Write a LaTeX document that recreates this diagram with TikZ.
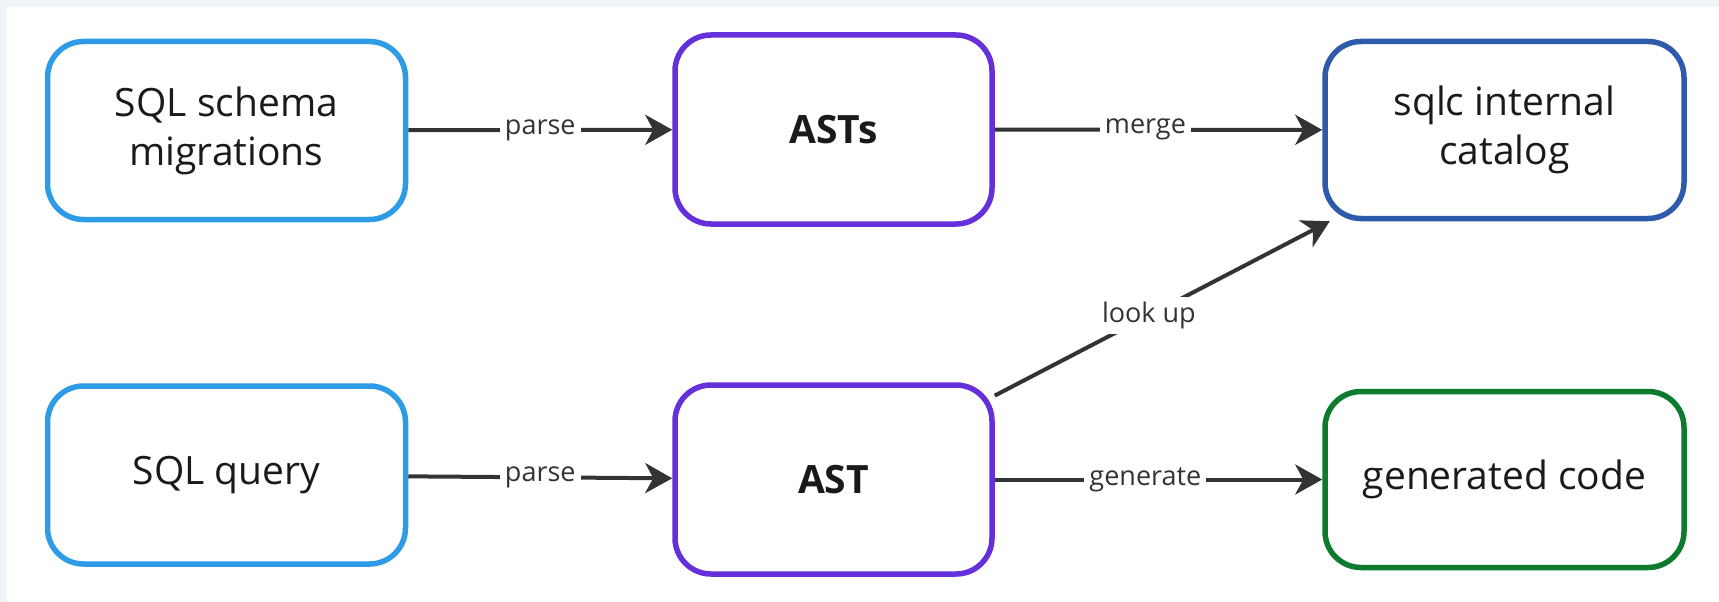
\documentclass[tikz,border=0pt]{standalone}
\usepackage{fontspec}
\setmainfont{Open Sans}
\usetikzlibrary{arrows.meta}
\definecolor{bgc}{HTML}{F0F3F6}
\definecolor{cblue}{HTML}{2D9BE6}
\definecolor{cpurple}{HTML}{6530D9}
\definecolor{cnavy}{HTML}{2E5AAC}
\definecolor{cgreen}{HTML}{0E7A2E}
\definecolor{ink}{HTML}{333333}
\definecolor{txt}{HTML}{1A1A1A}
\begin{document}
\begin{tikzpicture}[x=1pt,y=-1pt,
  box/.style={draw, line width=5.5pt, rounded corners=36pt, fill=white, align=center,
    text=txt, font=\fontsize{39}{49}\selectfont, inner sep=0pt},
  wide/.style={minimum width=358pt, minimum height=178pt},
  mid/.style={minimum width=317pt, minimum height=189pt},
  conn/.style={draw=ink, line width=4pt, -{Stealth[length=27pt,width=30pt,inset=8pt]}},
  lbl/.style={fill=white, text=ink, font=\fontsize{27}{30}\selectfont, inner sep=5pt}
]
\useasboundingbox (0,0) rectangle (1719,602);
\fill[bgc] (0,0) rectangle (1719,602);
\fill[white] (7,7) rectangle (1719,602);

\node[box, wide, draw=cblue] (schema) at (226.5,130.5) {SQL schema\\migrations};
\node[box, mid, draw=cpurple] (asts) at (833.5,129.5) {\bfseries ASTs};
\node[box, wide, draw=cnavy, minimum width=359pt, minimum height=177pt] (catalog) at (1504.5,130) {sqlc internal\\catalog};
\node[box, wide, draw=cblue] (query) at (226.5,475) {SQL query};
\node[box, mid, draw=cpurple] (ast) at (833.5,479.5) {\bfseries AST};
\node[box, wide, draw=cgreen, minimum width=359pt, minimum height=176pt] (gen) at (1504.5,479.5) {generated code};

\draw[conn] (schema) -- node[lbl, pos=0.5] {parse} (asts);
\draw[conn] (asts) -- node[lbl, pos=0.46] {merge} (catalog);
\draw[conn] (query) -- node[lbl, pos=0.5] {parse} (ast);
\draw[conn] (ast) -- node[lbl, pos=0.46] {generate} (gen);
\draw[conn] (ast) -- node[lbl, pos=0.46] {look up} (catalog);
\end{tikzpicture}
\end{document}
